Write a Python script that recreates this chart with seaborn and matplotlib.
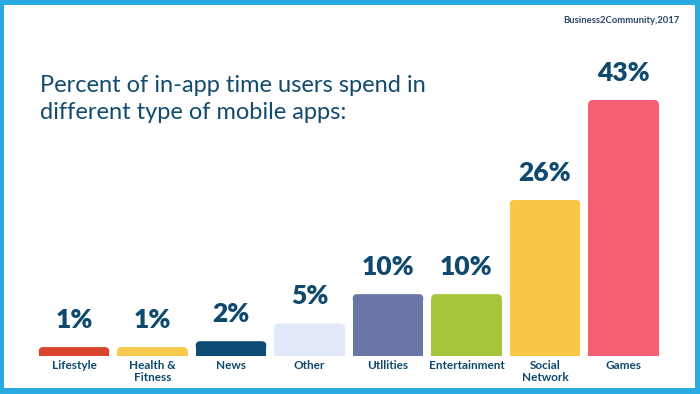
import pandas as pd
import matplotlib.pyplot as plt
import seaborn as sns
from matplotlib.patches import Rectangle, FancyBboxPatch

# ---------------- DATA ----------------
categories = ["Lifestyle", "Health &\nFitness", "News", "Other", "Utllities",
              "Entertainment", "Social\nNetwork", "Games"]
values = [1, 1, 2, 5, 10, 10, 26, 43]
bar_colors = ["#d8452c", "#f7c94d", "#0f4c75", "#e3e8f8", "#6a76a6",
              "#a5c53b", "#f8c74a", "#f45f73"]

df = pd.DataFrame({"category": categories, "value": values})

navy = "#0f4a6e"
frame_blue = "#29abe2"

# ---------------- FIGURE ----------------
sns.set_theme(style="white")
plt.rcParams["font.family"] = ["Lato", "DejaVu Sans"]

fig = plt.figure(figsize=(7, 3.94), dpi=100)
fig.patch.set_facecolor(frame_blue)
fig.patches.append(Rectangle((4 / 700, 6 / 394), 691 / 700, 383 / 394,
                             transform=fig.transFigure, facecolor="white",
                             edgecolor="none", zorder=-1))

ax = fig.add_axes([34.75 / 700, 38 / 394, 628 / 700, 256 / 394])
ax.set_facecolor("none")

sns.barplot(data=df, x="category", y="value", hue="category",
            palette=bar_colors, saturation=1, legend=False, width=0.9, ax=ax)

ax.set_xlim(-0.5, len(categories) - 0.5)
ax.set_ylim(-0.52, 43)

# rounded tops: square lower part + rounded cap
rx = 0.06
ry = 0.75
for p, col in zip(list(ax.patches), bar_colors):
    x, w, h = p.get_x(), p.get_width(), p.get_height()
    p.set_y(-0.52)
    p.set_height(h + 0.52 - ry)
    p.set_edgecolor("none")
    cap = FancyBboxPatch((x, h - 2 * ry), w, 2 * ry,
                         boxstyle=f"round,pad=0,rounding_size={rx}",
                         mutation_aspect=ry / rx,
                         facecolor=col, edgecolor="none")
    ax.add_patch(cap)

# value labels
for i, v in enumerate(values):
    ax.annotate(f"{v}%", (i, v), xytext=(0, 11), textcoords="offset points",
                ha="center", va="bottom", fontsize=19, fontweight="heavy",
                color=navy)

# category labels
ax.set_xticks(range(len(categories)))
ax.set_xticklabels(categories, fontsize=8.5, fontweight="bold", color=navy,
                   linespacing=1.05)
ax.tick_params(axis="x", length=0, pad=3)
ax.set_yticks([])
ax.set_xlabel("")
ax.set_ylabel("")
sns.despine(ax=ax, left=True, bottom=True)

# title and source
fig.text(40 / 700, 1 - 119 / 394,
         "Percent of in-app time users spend in\ndifferent type of mobile apps:",
         fontsize=17, color="#134b6e", ha="left", va="baseline",
         linespacing=1.35)
fig.text(680 / 700, 1 - 23 / 394, "Business2Community,2017", fontsize=6.8,
         fontweight="bold", color="#2b4766", ha="right", va="baseline")

fig.savefig("out.png", dpi=100, facecolor=fig.get_facecolor())
